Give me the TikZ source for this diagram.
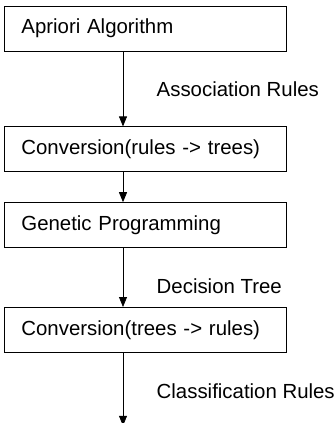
\documentclass[tikz,border=0pt]{standalone}
\usepackage{fontspec}
\setmainfont{Liberation Sans}
\usetikzlibrary{positioning,arrows.meta}

\begin{document}
\begin{tikzpicture}[x=1pt,y=1pt,font=\fontsize{20.4}{24}\selectfont,
		stage/.style={draw,line width=0.8pt,minimum width=282pt,minimum height=45pt,text width=248pt,inner xsep=17pt,align=left},
		flow/.style={line width=0.8pt,-{Triangle[length=10pt,width=8pt]}},
		elabel/.style={anchor=west,xshift=30pt}]
		\useasboundingbox (0,0) rectangle (333,-423);
		\node[stage,anchor=west] (apriori) at (4,-28.5) {Apriori Algorithm};
		\node[stage] (rules2trees) [below=75pt of apriori] {Conversion(rules -> trees)};
		\node[stage] (gp) [below=30pt of rules2trees] {Genetic Programming};
		\node[stage] (trees2rules) [below=59pt of gp] {Conversion(trees -> rules)};
		\coordinate (out) at ([xshift=119pt,yshift=-73pt]trees2rules.south west);
		\draw[flow] ([xshift=119pt]apriori.south west) -- node[elabel,pos=0.51] (assoc) {Association Rules} ([xshift=119pt]rules2trees.north west);
		\draw[flow] ([xshift=119pt]rules2trees.south west) -- ([xshift=119pt]gp.north west);
		\draw[flow] ([xshift=119pt]gp.south west) -- node[elabel,pos=0.64] (dtree) {Decision Tree} ([xshift=119pt]trees2rules.north west);
		\draw[flow] ([xshift=119pt]trees2rules.south west) -- node[elabel,pos=0.52] (classrules) {Classification Rules} (out);
	\end{tikzpicture}
\end{document}
